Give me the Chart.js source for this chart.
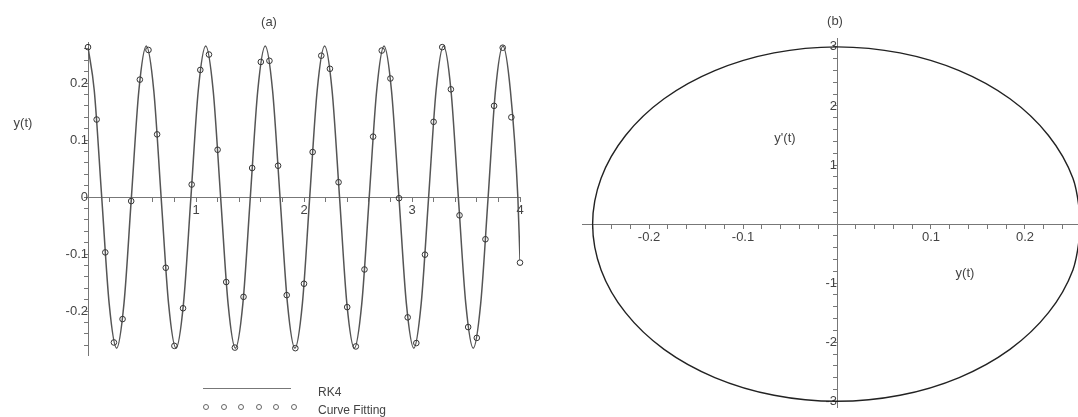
<!DOCTYPE html>
<html>
<head>
<meta charset="utf-8">
<title>y(t)</title>
<script src="https://cdn.jsdelivr.net/npm/chart.js@4.4.1/dist/chart.umd.min.js"></script>
<style>
  body {
    margin: 0;
    width: 1078px;
    height: 417px;
    overflow: hidden;
    position: relative;
    background: #fff;
    font-family: 'Liberation Sans', Arial, sans-serif;
    color: #444;
  }
  canvas { position: absolute; top: 0; }
  #plotA { left: 0; }
  #plotB { left: 540px; }
  .lbl {
    position: absolute;
    font-size: 13px;
    line-height: 13px;
    white-space: nowrap;
    transform: translate(-50%, -50%);
  }
  .key {
    position: absolute;
    font-size: 12px;
    line-height: 12px;
    white-space: nowrap;
  }
  .keyline {
    position: absolute;
    left: 203px;
    top: 388px;
    width: 88px;
    border-top: 1px solid #777;
  }
  .keydot {
    position: absolute;
    top: 404px;
    width: 4px;
    height: 4px;
    border: 1px solid #666;
    border-radius: 50%;
  }
</style>
</head>
<body>
<canvas id="plotA" width="540" height="417"></canvas>
<canvas id="plotB" width="538" height="417"></canvas>

<div class="lbl" style="left:269px; top:21px">(a)</div>
<div class="lbl" style="left:23px; top:122px">y(t)</div>
<div class="lbl" style="left:835px; top:20px">(b)</div>
<div class="lbl" style="left:785px; top:137px">y'(t)</div>
<div class="lbl" style="left:965px; top:272px">y(t)</div>

<div class="keyline"></div>
<div id="keyDots"></div>
<div class="key" style="left:318px; top:386px">RK4</div>
<div class="key" style="left:318px; top:404px">Curve Fitting</div>

<script>
// RK4 solution y(t), sampled at eighths of the period
const tRK4 = [
  0.000, 0.058, 0.127, 0.196, 0.265, 0.333, 0.402, 0.471, 0.540,
  0.609, 0.677, 0.746, 0.815, 0.884, 0.953, 1.021, 1.090,
  1.159, 1.228, 1.297, 1.365, 1.434, 1.503, 1.572, 1.641,
  1.709, 1.778, 1.847, 1.916, 1.985, 2.053, 2.122, 2.191,
  2.260, 2.329, 2.397, 2.466, 2.535, 2.604, 2.673, 2.741,
  2.810, 2.879, 2.948, 3.017, 3.085, 3.154, 3.223, 3.292,
  3.361, 3.429, 3.498, 3.567, 3.636, 3.705, 3.773, 3.842,
  3.911, 3.980, 4.000
];
const yRK4 = [
  0.263, 0.187, 0, -0.187, -0.265, -0.187, 0, 0.187, 0.265,
  0.187, 0, -0.187, -0.265, -0.187, 0, 0.187, 0.265,
  0.187, 0, -0.187, -0.265, -0.187, 0, 0.187, 0.265,
  0.187, 0, -0.187, -0.265, -0.187, 0, 0.187, 0.265,
  0.187, 0, -0.187, -0.265, -0.187, 0, 0.187, 0.265,
  0.187, 0, -0.187, -0.265, -0.187, 0, 0.187, 0.265,
  0.187, 0, -0.187, -0.265, -0.187, 0, 0.187, 0.265,
  0.187, 0, -0.110
];

// curve fitting values, every 0.08
const tFit = [
  0, 0.08, 0.16, 0.24, 0.32, 0.40, 0.48, 0.56, 0.64, 0.72,
  0.80, 0.88, 0.96, 1.04, 1.12, 1.20, 1.28, 1.36, 1.44, 1.52,
  1.60, 1.68, 1.76, 1.84, 1.92, 2.00, 2.08, 2.16, 2.24, 2.32,
  2.40, 2.48, 2.56, 2.64, 2.72, 2.80, 2.88, 2.96, 3.04, 3.12,
  3.20, 3.28, 3.36, 3.44, 3.52, 3.60, 3.68, 3.76, 3.84, 3.92, 4.00
];
const yFit = [
  0.263, 0.136, -0.097, -0.255, -0.214, -0.007, 0.206, 0.258, 0.110, -0.124,
  -0.261, -0.195, 0.022, 0.223, 0.250, 0.083, -0.149, -0.264, -0.175, 0.051,
  0.237, 0.239, 0.055, -0.172, -0.265, -0.152, 0.079, 0.248, 0.225, 0.026,
  -0.193, -0.262, -0.127, 0.106, 0.257, 0.208, -0.002, -0.211, -0.256, -0.101,
  0.132, 0.263, 0.189, -0.032, -0.228, -0.247, -0.074, 0.160, 0.262, 0.140, -0.115
];

// phase plane: y(t) against y'(t)
const yPhase = [
  0.26, 0.251, 0.225, 0.184, 0.13, 0.067, 0, -0.067, -0.13, -0.184, -0.225, -0.251,
  -0.26, -0.251, -0.225, -0.184, -0.13, -0.067, 0, 0.067, 0.13, 0.184, 0.225, 0.251, 0.26
];
const dyPhase = [
  0, 0.776, 1.5, 2.121, 2.598, 2.898, 3.0, 2.898, 2.598, 2.121, 1.5, 0.776,
  0, -0.776, -1.5, -2.121, -2.598, -2.898, -3.0, -2.898, -2.598, -2.121, -1.5, -0.776, 0
];

// labelled ticks
const tLabels = [1, 2, 3, 4];
const yLabelsA = [-0.2, -0.1, 0, 0.1, 0.2];
const yLabelsB = [-0.2, -0.1, 0.1, 0.2];
const dyLabelsB = [-3, -2, -1, 1, 2, 3];

const FONT = "'Liberation Sans', Arial, sans-serif";

function zip(xs, ys) {
  return xs.map((x, i) => ({ x: x, y: ys[i] }));
}

// every multiple of step inside [min, max]
function stepTicks(min, max, step) {
  const out = [];
  const first = Math.ceil(min / step - 1e-9);
  const last = Math.floor(max / step + 1e-9);
  for (let k = first; k <= last; k++) out.push({ value: +(k * step).toFixed(4) });
  return out;
}

// axis drawn through the origin, Maple style: small ticks, few labels
function crossedAxis(min, max, step, labels, crossAt) {
  return {
    type: 'linear',
    min: min,
    max: max,
    position: crossAt,
    afterBuildTicks: scale => { scale.ticks = stepTicks(min, max, step); },
    grid: { drawOnChartArea: false, drawTicks: true, tickLength: 4, tickColor: '#777' },
    border: { display: true, color: '#777', width: 1 },
    ticks: {
      autoSkip: false,
      maxRotation: 0,
      padding: 2,
      color: '#444',
      font: { family: FONT, size: 13 },
      callback: v => labels.some(l => Math.abs(l - v) < 1e-6) ? String(v) : ''
    }
  };
}

const baseOptions = {
  responsive: false,
  animation: false,
  events: [],
  plugins: { legend: { display: false }, tooltip: { enabled: false } },
  elements: { line: { capBezierPoints: false } }
};

new Chart(document.getElementById('plotA'), {
  type: 'scatter',
  data: {
    datasets: [
      {
        label: 'Curve Fitting',
        data: zip(tFit, yFit),
        showLine: false,
        pointRadius: 2.8,
        pointBorderWidth: 1,
        pointBorderColor: '#333',
        pointBackgroundColor: 'rgba(255,255,255,0)',
        clip: false,
        order: 0
      },
      {
        label: 'RK4',
        data: zip(tRK4, yRK4),
        showLine: true,
        pointRadius: 0,
        borderColor: '#555',
        borderWidth: 1.5,
        cubicInterpolationMode: 'monotone',
        order: 1
      }
    ]
  },
  options: Object.assign({}, baseOptions, {
    layout: { padding: { left: 88, right: 20, top: 42, bottom: 62 } },
    scales: {
      x: crossedAxis(0, 4, 0.2, tLabels, { y: 0 }),
      y: crossedAxis(-0.277, 0.272, 0.02, yLabelsA, { x: 0 })
    }
  })
});

new Chart(document.getElementById('plotB'), {
  type: 'scatter',
  data: {
    datasets: [{
      label: 'phase',
      data: zip(yPhase, dyPhase),
      showLine: true,
      pointRadius: 0,
      borderColor: '#222',
      borderWidth: 1.4,
      tension: 0.34,
      clip: false
    }]
  },
  options: Object.assign({}, baseOptions, {
    layout: { padding: { left: 42, right: 0, top: 38, bottom: 0 } },
    scales: {
      x: crossedAxis(-0.2713, 0.2564, 0.02, yLabelsB, { y: 0 }),
      y: crossedAxis(-3.1, 3.15, 0.2, dyLabelsB, { x: 0 })
    }
  })
});

// legend markers for the fitted points
const dots = document.getElementById('keyDots');
for (let i = 0; i < 6; i++) {
  const d = document.createElement('div');
  d.className = 'keydot';
  d.style.left = (203 + i * 17.6) + 'px';
  dots.appendChild(d);
}
</script>
</body>
</html>
